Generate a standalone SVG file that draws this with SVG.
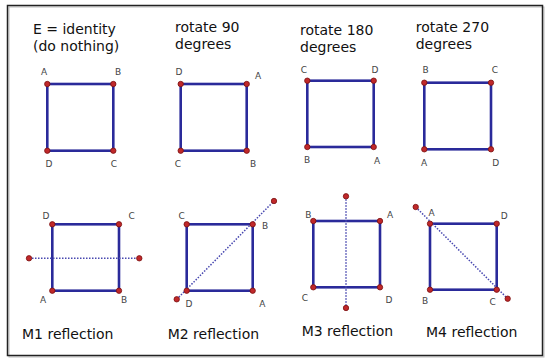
<svg xmlns="http://www.w3.org/2000/svg" width="550" height="364" viewBox="0 0 550 364">
<style>
.t{font-family:"DejaVu Sans",Verdana,sans-serif;font-size:14px;fill:#111}
.l{font-family:"DejaVu Sans",Verdana,sans-serif;font-size:9px;fill:#444;text-anchor:middle}
.sq{fill:#fff;stroke:#2a2a9a;stroke-width:2.6}
.v{fill:#c0282a;stroke:#7a1010;stroke-width:0.8}
.ax{stroke:#4848b0;stroke-width:1.5;stroke-dasharray:1.5 1.5;fill:none}
</style>
<defs>
<circle id="dot" r="2.7" class="v"/>
</defs>
<rect x="0" y="0" width="550" height="364" fill="#fff"/>
<rect x="9" y="7" width="535" height="350" fill="none" stroke="#bbb" stroke-width="1"/>
<rect x="7.5" y="5.5" width="535" height="350" fill="none" stroke="#222" stroke-width="1.5"/>

<g id="identity">
<text class="t" x="33" y="34">E = identity</text>
<text class="t" x="33" y="51">(do nothing)</text>
<rect class="sq" x="47.3" y="84" width="66" height="66.7"/>
<use href="#dot" x="47.3" y="84"/><use href="#dot" x="113.3" y="84"/><use href="#dot" x="47.3" y="150.7"/><use href="#dot" x="113.3" y="150.7"/>
<text class="l" x="44" y="75">A</text><text class="l" x="118" y="75">B</text><text class="l" x="49" y="167">D</text><text class="l" x="114" y="167">C</text>
</g>

<g id="rot90">
<text class="t" x="175" y="32">rotate 90</text>
<text class="t" x="175" y="49">degrees</text>
<rect class="sq" x="180.7" y="84" width="66" height="66.7"/>
<use href="#dot" x="180.7" y="84"/><use href="#dot" x="246.7" y="84"/><use href="#dot" x="180.7" y="150.7"/><use href="#dot" x="246.7" y="150.7"/>
<text class="l" x="179" y="75">D</text><text class="l" x="258" y="79">A</text><text class="l" x="178" y="167">C</text><text class="l" x="253" y="167">B</text>
</g>

<g id="rot180">
<text class="t" x="300" y="35">rotate 180</text>
<text class="t" x="300" y="52">degrees</text>
<rect class="sq" x="307.3" y="80.7" width="66.4" height="66.3"/>
<use href="#dot" x="307.3" y="80.7"/><use href="#dot" x="373.7" y="80.7"/><use href="#dot" x="307.3" y="147"/><use href="#dot" x="373.7" y="147"/>
<text class="l" x="304" y="73">C</text><text class="l" x="375" y="73">D</text><text class="l" x="307" y="163">B</text><text class="l" x="377" y="164">A</text>
</g>

<g id="rot270">
<text class="t" x="415.7" y="32">rotate 270</text>
<text class="t" x="415.7" y="49">degrees</text>
<rect class="sq" x="424.3" y="82.7" width="66.7" height="66.6"/>
<use href="#dot" x="424.3" y="82.7"/><use href="#dot" x="491" y="82.7"/><use href="#dot" x="424.3" y="149.3"/><use href="#dot" x="491" y="149.3"/>
<text class="l" x="425.7" y="73">B</text><text class="l" x="495" y="73">C</text><text class="l" x="424" y="166">A</text><text class="l" x="495.7" y="166">D</text>
</g>

<g id="m1">
<rect class="sq" x="52.3" y="224.3" width="66.7" height="66.4"/>
<line class="ax" x1="29" y1="258.3" x2="139.3" y2="258.3"/>
<use href="#dot" x="29" y="258.3"/><use href="#dot" x="139.3" y="258.3"/>
<use href="#dot" x="52.3" y="224.3"/><use href="#dot" x="119" y="224.3"/><use href="#dot" x="52.3" y="290.7"/><use href="#dot" x="119" y="290.7"/>
<text class="l" x="46" y="218.5">D</text><text class="l" x="131.7" y="218.5">C</text><text class="l" x="43" y="303">A</text><text class="l" x="124" y="303">B</text>
<text class="t" x="22" y="339">M1 reflection</text>
</g>

<g id="m2">
<rect class="sq" x="186.7" y="224.3" width="66" height="66.4"/>
<line class="ax" x1="176.7" y1="299.3" x2="274" y2="201"/>
<use href="#dot" x="176.7" y="299.3"/><use href="#dot" x="274" y="201"/>
<use href="#dot" x="186.7" y="224.3"/><use href="#dot" x="252.7" y="224.3"/><use href="#dot" x="186.7" y="290.7"/><use href="#dot" x="252.7" y="290.7"/>
<text class="l" x="181.7" y="218.5">C</text><text class="l" x="265" y="229">B</text><text class="l" x="189" y="307">D</text><text class="l" x="262.3" y="307">A</text>
<text class="t" x="167.7" y="338.7">M2 reflection</text>
</g>

<g id="m3">
<rect class="sq" x="313.3" y="221" width="66.7" height="66.3"/>
<line class="ax" x1="346" y1="196.3" x2="346" y2="308"/>
<use href="#dot" x="346" y="196.3"/><use href="#dot" x="346" y="308"/>
<use href="#dot" x="313.3" y="221"/><use href="#dot" x="380" y="221"/><use href="#dot" x="313.3" y="287.3"/><use href="#dot" x="380" y="287.3"/>
<text class="l" x="308.3" y="217.5">B</text><text class="l" x="390" y="217.5">A</text><text class="l" x="305" y="301">C</text><text class="l" x="389" y="302.5">D</text>
<text class="t" x="301.7" y="336">M3 reflection</text>
</g>

<g id="m4">
<rect class="sq" x="430" y="223.7" width="66.7" height="66"/>
<line class="ax" x1="415.7" y1="207" x2="507.7" y2="298.7"/>
<use href="#dot" x="415.7" y="207"/><use href="#dot" x="507.7" y="298.7"/>
<use href="#dot" x="430" y="223.7"/><use href="#dot" x="496.7" y="223.7"/><use href="#dot" x="430" y="289.7"/><use href="#dot" x="496.7" y="289.7"/>
<text class="l" x="431.7" y="216">A</text><text class="l" x="504.3" y="218.5">D</text><text class="l" x="425" y="304">B</text><text class="l" x="492.7" y="305">C</text>
<text class="t" x="426" y="337">M4 reflection</text>
</g>
</svg>
